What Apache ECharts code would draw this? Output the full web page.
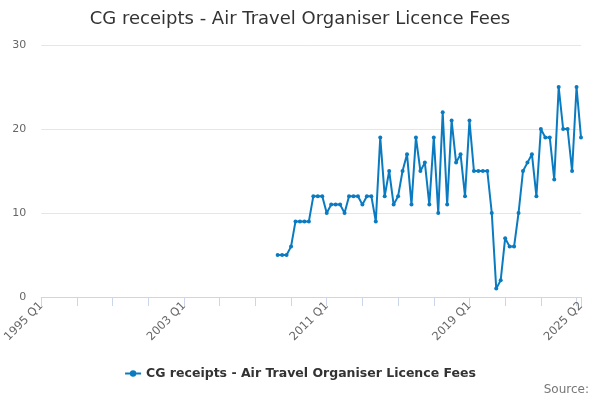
<!DOCTYPE html>
<html>
<head>
<meta charset="utf-8">
<script src="https://cdn.jsdelivr.net/npm/echarts@6/dist/echarts.min.js"></script>
<style>
html,body{margin:0;padding:0;background:#fff;}
#chart{width:600px;height:400px;}
</style>
</head>
<body>
<div id="chart"></div>
<script>
var titleText = 'CG receipts - Air Travel Organiser Licence Fees';
var seriesName = 'CG receipts - Air Travel Organiser Licence Fees';
var firstYear = 1995;
var lastYear = 2025;
var lastQuarter = 2;
var startCategory = '2008 Q2';
var yTicks = [0, 10, 20, 30];
var values = [5,5,5,6,9,9,9,9,12,12,12,10,11,11,11,10,12,12,12,11,12,12,9,19,12,15,11,12,15,17,11,19,15,16,11,19,10,22,11,21,16,17,12,21,15,15,15,15,10,1,2,7,6,6,10,15,16,17,12,20,19,19,14,25,20,20,15,25,19];

var categories = [];
for (var y = firstYear; y <= lastYear; y++) {
  for (var q = 1; q <= 4; q++) {
    if (y === lastYear && q > lastQuarter) break;
    categories.push(y + ' Q' + q);
  }
}
var startIdx = categories.indexOf(startCategory);
var data = categories.map(function (c, i) {
  var k = i - startIdx;
  return (k >= 0 && k < values.length) ? values[k] : null;
});
var lastIdx = categories.length - 1;

var font = 'DejaVu Sans';
var chart = echarts.init(document.getElementById('chart'));
chart.setOption({
  animation: false,
  textStyle: { fontFamily: font },
  title: {
    text: titleText,
    left: 'center',
    top: 5,
    textStyle: { fontFamily: font, fontSize: 18, fontWeight: 'normal', color: '#333333' }
  },
  grid: { left: 40, right: 19, top: 45, bottom: 103 },
  legend: {
    bottom: 15,
    left: 'center',
    itemWidth: 16,
    itemHeight: 8,
    itemGap: 10,
    textStyle: { fontFamily: font, fontSize: 12.5, fontWeight: 'bold', color: '#333333' },
    data: [seriesName]
  },
  graphic: [{
    type: 'text',
    right: 11,
    bottom: 4,
    style: { text: 'Source:', font: '12px "DejaVu Sans"', fill: '#777777' }
  }],
  xAxis: {
    type: 'category',
    data: categories,
    boundaryGap: false,
    axisLine: { lineStyle: { color: '#ccd6eb' } },
    axisTick: {
      length: 9,
      lineStyle: { color: '#ccd6eb' },
      interval: function (i) { return i % 8 === 0 || i === lastIdx; }
    },
    axisLabel: {
      rotate: 45,
      margin: 7,
      fontSize: 11.5,
      color: '#666666',
      fontFamily: font,
      interval: function (i) { return i % 32 === 0 || i === lastIdx; }
    },
    splitLine: { show: false }
  },
  yAxis: {
    type: 'value',
    min: yTicks[0],
    max: yTicks[yTicks.length - 1],
    interval: 10,
    axisLine: { show: false },
    axisTick: { show: false },
    axisLabel: { fontSize: 11, color: '#666666', fontFamily: font, margin: 15 },
    splitLine: { lineStyle: { color: '#e6e6e6' } }
  },
  series: [{
    name: seriesName,
    type: 'line',
    data: data,
    connectNulls: false,
    symbol: 'circle',
    symbolSize: 4,
    showAllSymbol: true,
    lineStyle: { color: '#0a7bc0', width: 2 },
    itemStyle: { color: '#0a7bc0' }
  }]
});
</script>
</body>
</html>
